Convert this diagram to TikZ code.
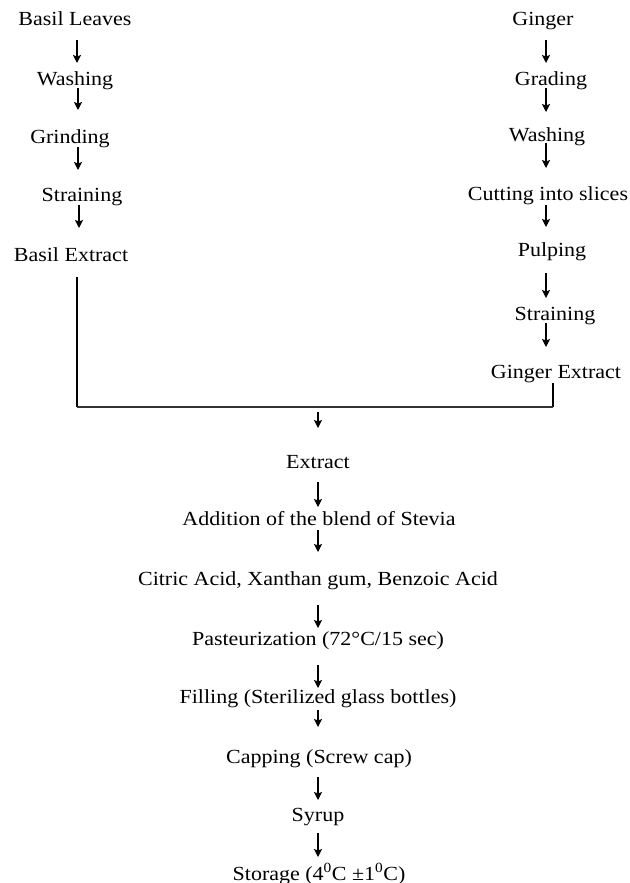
\documentclass[tikz,border=0pt]{standalone}
\usepackage{fontspec}
\setmainfont{Liberation Serif}[FakeStretch=1.1]
\usetikzlibrary{arrows.meta}
\begin{document}
\begin{tikzpicture}[x=1pt,y=-1pt,
  lbl/.style={anchor=base,inner sep=0pt,font=\fontsize{20}{24}\selectfont},
  arr/.style={line width=1.3pt,-{Stealth[length=8pt,width=8pt,inset=1.5pt]}},
  bar/.style={line width=1.5pt,black!80}]
\useasboundingbox (0,0) rectangle (629,883);
% left column
\node[lbl] (bl) at (75,26) {Basil Leaves};
\node[lbl] (lw) at (75,85) {Washing};
\node[lbl] (lg) at (70,143) {Grinding};
\node[lbl] (ls) at (82,201) {Straining};
\node[lbl] (be) at (71,261) {Basil Extract};
% right column
\node[lbl] (gi) at (543,26) {Ginger};
\node[lbl] (gr) at (551,85) {Grading};
\node[lbl] (rw) at (547,141) {Washing};
\node[lbl] (cu) at (548,200) {Cutting into slices};
\node[lbl] (pu) at (552,256) {Pulping};
\node[lbl] (rs) at (555,320) {Straining};
\node[lbl] (ge) at (556,378) {Ginger Extract};
% centre column
\node[lbl] (ex) at (318,468) {Extract};
\node[lbl] (ad) at (319,525) {Addition of the blend of Stevia};
\node[lbl] (ci) at (318,585) {Citric Acid, Xanthan gum, Benzoic Acid};
\node[lbl] (pa) at (318,645) {Pasteurization (72°C/15 sec)};
\node[lbl] (fi) at (318,703) {Filling (Sterilized glass bottles)};
\node[lbl] (ca) at (319,763) {Capping (Screw cap)};
\node[lbl] (sy) at (318,821) {Syrup};
\node[lbl] (st) at (319,880) {Storage (4\textsuperscript{0}C ±1\textsuperscript{0}C)};
% arrows
\foreach \n/\x/\ya/\yb in {l1/77/40/63, l2/78/88/110, l3/78/147/170, l4/79/205/228,
   r1/546/40/63, r2/546/88/112, r3/546/143/168, r4/546/205/227, r5/546/273/298, r6/546/323/347,
   c1/318/412/428, c2/318/482/507, c3/318/530/552, c4/318/605/628, c5/318/665/688,
   c6/318/710/727, c7/318/777/800, c8/318/833/857}
  \draw[arr] (\x,\ya) coordinate (s\n) -- (\x,\yb) coordinate (e\n);
% joining bracket
\coordinate (jl) at (77,407);
\coordinate (jr) at (553,407);
\coordinate (bt) at (77,277);
\coordinate (gt) at (553,383);
\draw[line width=1.3pt] (bt) -- (jl);
\draw[line width=1.3pt] (gt) -- (jr);
\draw[bar] (jl) -- (jr);
\end{tikzpicture}
\end{document}
